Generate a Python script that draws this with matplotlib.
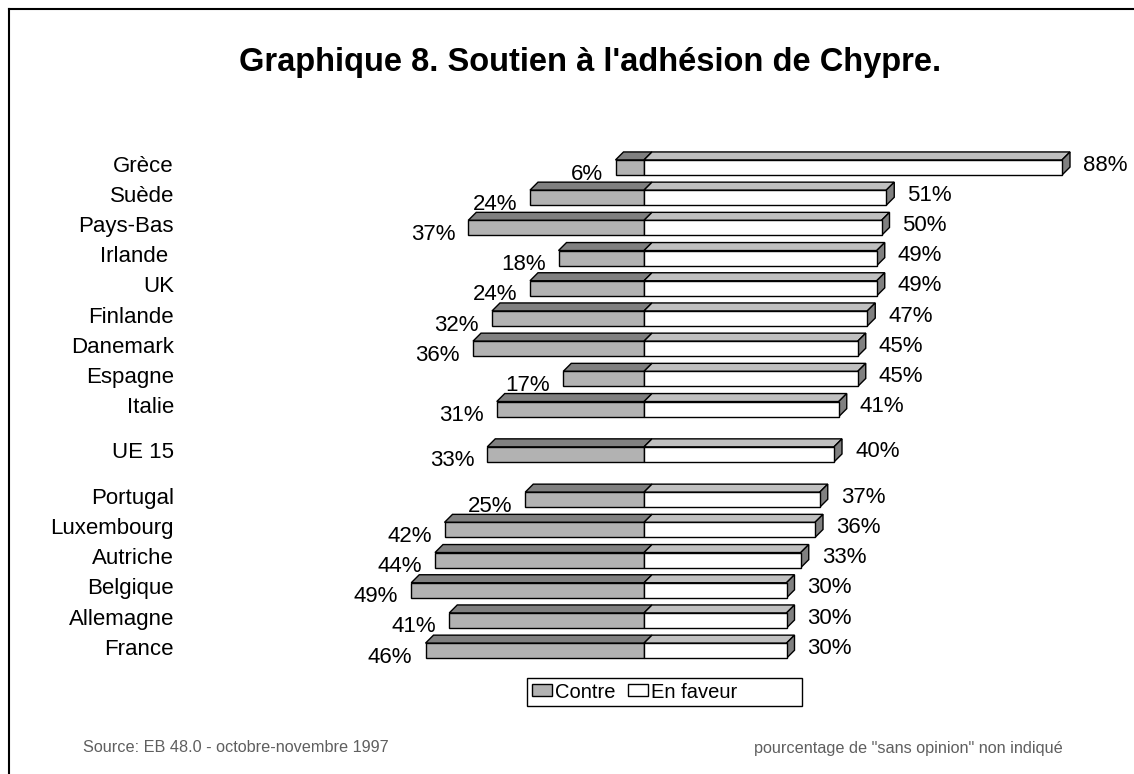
import numpy as np
import matplotlib
matplotlib.use('Agg')
from matplotlib import pyplot as plt
from matplotlib.patches import Polygon, Patch, Rectangle
from matplotlib.lines import Line2D

# Support for Cyprus accession, EB 48.0 (Oct-Nov 1997)
countries = ['Grèce', 'Suède', 'Pays-Bas', 'Irlande ', 'UK', 'Finlande', 'Danemark',
             'Espagne', 'Italie', 'UE 15', 'Portugal', 'Luxembourg', 'Autriche',
             'Belgique', 'Allemagne', 'France']
contre = [6, 24, 37, 18, 24, 32, 36, 17, 31, 33, 25, 42, 44, 49, 41, 46]
en_faveur = [88, 51, 50, 49, 49, 47, 45, 45, 41, 40, 37, 36, 33, 30, 30, 30]

plt.rcParams['font.family'] = ['Liberation Sans', 'DejaVu Sans']

W, H = 1134, 774
fig = plt.figure(figsize=(W / 100, H / 100), dpi=100)

# axes placed so that 0% sits at x=644px and rows are ~30px apart
x0, x1 = -60, 100
y_top, y_bot = -1, 17
left_px, right_px = 644 + x0 * 4.75, 644 + x1 * 4.75
top_px, bot_px = 167.5 + y_top * 30.2, 167.5 + y_bot * 30.2
ax = fig.add_axes([left_px / W, 1 - bot_px / H, (right_px - left_px) / W, (bot_px - top_px) / H])
ax.set_xlim(x0, x1)
ax.set_ylim(y_bot, y_top)
ax.axis('off')

idx = np.arange(len(countries))
rows = idx + 0.5 * (idx >= 9) + 0.5 * (idx >= 10)

h = 0.5          # front face height (rows)
dx = 8 / 4.75    # depth, in % units
dy = 8 / 30.2    # depth, in row units

c_front = '#b2b2b2'
c_top_neg = '#808080'
c_top_pos = '#c0c0c0'
c_side = '#808080'

ax.barh(rows, [-v for v in contre], height=h, color=c_front, edgecolor='black', linewidth=1, zorder=3)
ax.barh(rows, en_faveur, height=h, color='white', edgecolor='black', linewidth=1, zorder=3)

for r, c, f in zip(rows, contre, en_faveur):
    yt = r - h / 2
    yb = r + h / 2
    ax.add_patch(Polygon([(-c, yt), (0, yt), (dx, yt - dy), (-c + dx, yt - dy)],
                         closed=True, facecolor=c_top_neg, edgecolor='black', lw=1, zorder=2))
    ax.add_patch(Polygon([(0, yt), (f, yt), (f + dx, yt - dy), (dx, yt - dy)],
                         closed=True, facecolor=c_top_pos, edgecolor='black', lw=1, zorder=2))
    ax.add_patch(Polygon([(f, yt), (f + dx, yt - dy), (f + dx, yb - dy), (f, yb)],
                         closed=True, facecolor=c_side, edgecolor='black', lw=1, zorder=2))

    ax.annotate(f'{c}%', xy=(-c, r), textcoords='offset pixels', xytext=(-13, -6.5),
                ha='right', va='center', fontsize=16, color='black')
    ax.annotate(f'{f}%', xy=(f, r), textcoords='offset pixels', xytext=(21, 2.5),
                ha='left', va='center', fontsize=16, color='black')

for r, name in zip(rows, countries):
    ax.annotate(name, xy=(174, r), xycoords=('figure pixels', 'data'),
                textcoords='offset pixels', xytext=(0, 1.5),
                ha='right', va='center', fontsize=16, color='black')

fig.text(590 / W, 1 - 62 / H, "Graphique 8. Soutien à l'adhésion de Chypre.",
         ha='center', va='center', fontsize=23.5, fontweight='bold')

# legend: Excel-style box wider than its content
fig.add_artist(Rectangle((527 / W, 1 - 706 / H), (802 - 527) / W, 28 / H,
                         transform=fig.transFigure, facecolor='white',
                         edgecolor='black', lw=1))
handles = [Patch(facecolor=c_front, edgecolor='black', lw=1, label='Contre'),
           Patch(facecolor='white', edgecolor='black', lw=1, label='En faveur')]
leg = fig.legend(handles=handles, loc='center left', bbox_to_anchor=(532 / W, 1 - 692 / H),
                 ncol=2, fontsize=14.5, frameon=False,
                 handlelength=1.0, handleheight=0.55, handletextpad=0.15,
                 columnspacing=0.6, borderpad=0.0, borderaxespad=0)

fig.text(83 / W, 1 - 748 / H, 'Source: EB 48.0 - octobre-novembre 1997',
         ha='left', va='center', fontsize=11.7, color='#5f5f5f')
fig.text(1063 / W, 1 - 748 / H, 'pourcentage de "sans opinion" non indiqué',
         ha='right', va='center', fontsize=11.7, color='#5f5f5f')

# frame around the chart (only top and left edges fall inside the image)
fig.add_artist(Line2D([8.5 / W, 8.5 / W], [0, 1 - 9 / H], color='black', lw=1.5))
fig.add_artist(Line2D([8.5 / W, 1], [1 - 9 / H, 1 - 9 / H], color='black', lw=1.5))

fig.savefig('out.png', dpi=100)
